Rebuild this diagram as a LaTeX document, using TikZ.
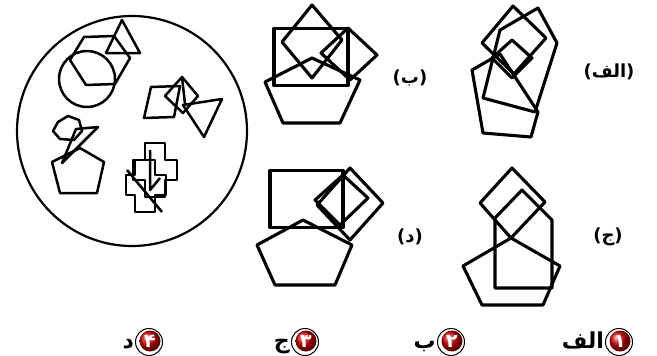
\documentclass[tikz,border=0pt]{standalone}
\usepackage{fontspec}
\newfontfamily\arabicfont[Script=Arabic]{DejaVu Sans}
\newfontfamily\dvs{DejaVu Sans}
\TeXXeTstate=1
\newcommand{\plbl}[1]{{\dvs\bfseries(}{\arabicfont\bfseries\beginR #1\endR}{\dvs\bfseries)}}
\begin{document}
\begin{tikzpicture}[x=1pt,y=-1pt,
  shp/.style={draw=black,line width=3.1pt,line join=round},
  thin shp/.style={draw=black,line width=2.5pt,line join=round},
  lbl/.style={font=\fontsize{18}{20}\selectfont,inner sep=0pt},
  ans/.style={font=\arabicfont\bfseries\fontsize{22}{24}\selectfont,inner sep=0pt},
  numc/.style={circle,shading=ball,ball color=red!80!black,text=white,minimum size=21pt,inner sep=0pt,font=\arabicfont\bfseries\fontsize{19}{20}\selectfont}]
\useasboundingbox (0,0) rectangle (657,356);
\fill[white] (0,0) rectangle (657,356);

% big circle with the sample shapes
\draw[line width=2.2pt] (132,131) circle (115);
% group 1
\draw[thin shp] (87,79) circle (28);
\draw[thin shp] (84,37) -- (114,36) -- (130,58) -- (115,84) -- (86,85) -- (70,60) -- cycle;
\draw[thin shp] (122,20) -- (106,53) -- (140,53) -- cycle;
% group 2
\draw[thin shp] (151,87) -- (180,86) -- (174,117) -- (144,118) -- cycle;
\draw[thin shp] (182,77) -- (198,96) -- (183,113) -- (165,96) -- cycle;
\draw[thin shp] (183,105) -- (222,99) -- (204,137) -- cycle;
\draw[thin shp] (182,77) -- (185,104);
% group 3
\draw[thin shp] (58,122) -- (68,116) -- (79,120) -- (82,131) -- (74,140) -- (60,139) -- (53,131) -- cycle;
\draw[thin shp] (76,129) -- (98,127) -- (62,163) -- cycle;
\draw[thin shp] (80,148) -- (104,162) -- (97,193) -- (60,193) -- (52,162) -- cycle;
% group 4
\draw[thin shp] (145,143) -- (165,143) -- (165,160) -- (177,160) -- (177,180) -- (165,180) -- (165,197) -- (145,197) -- (145,180) -- (133,180) -- (133,160) -- (145,160) -- cycle;
\draw[thin shp] (135,160) -- (155,160) -- (155,175) -- (166,175) -- (166,195) -- (155,195) -- (155,212) -- (135,212) -- (135,195) -- (126,195) -- (126,175) -- (135,175) -- cycle;
\draw[thin shp] (127,170) -- (162,212);
\draw[thin shp] (150,150) -- (150,190) -- (160,178);

% option alef
\draw[shp] (472,70) -- (500,54) -- (538,112) -- (531,137) -- (483,133) -- cycle;
\draw[shp] (500,30) -- (538,8) -- (557,43) -- (535,112) -- (483,98) -- cycle;
\draw[shp] (513,6) -- (482,43) -- (514,74) -- (546,38) -- cycle;
\draw[shp] (512,40) -- (532,58) -- (512,78) -- (492,58) -- cycle;
\node[lbl] (lalef) at (609,72) {\plbl{الف}};

% option be
\draw[shp] (274,28.5) -- (348,28.5) -- (348,85.5) -- (274,85.5) -- cycle;
\draw[shp] (312,5) -- (282,42) -- (312,78) -- (342,40) -- cycle;
\draw[shp] (348,28) -- (377,55) -- (350,80) -- (321,53) -- cycle;
\draw[shp] (312,58) -- (265,82) -- (283,123) -- (340,123) -- (360,80) -- cycle;
\node[lbl] (lbe) at (410,78) {\plbl{ب}};

% option jim
\draw[shp] (512,168) -- (480,203) -- (511,238) -- (545,202) -- cycle;
\draw[shp] (495,288) -- (495,218) -- (522,190) -- (552,220) -- (552,288) -- cycle;
\draw[shp] (463,266) -- (511,238) -- (560,266) -- (543,305) -- (482,305) -- cycle;
\node[lbl] (ljim) at (608,237) {\plbl{ج}};

% option dal
\draw[shp] (270,170.5) -- (343,170.5) -- (343,227.5) -- (270,227.5) -- cycle;
\draw[shp] (350,168) -- (383,203) -- (350,240) -- (317,205) -- cycle;
\draw[shp] (343,175) -- (368,198) -- (340,225) -- (315,200) -- cycle;
\draw[shp] (303,220) -- (257,245) -- (275,285) -- (335,285) -- (352,245) -- cycle;
\node[lbl] (ldal) at (410,237) {\plbl{د}};

% answers
\foreach \p/\d/\t/\w in {620/۱/الف/1, 452/۲/ب/2, 306/۳/ج/3, 150/۴/د/4}{
  \draw[line width=1pt] (\p-1,342) circle (13.5);
  \node[numc] (n\w) at (\p,341) {\d};
  \node[ans,anchor=base east] (a\w) at (\p-16,348) {\beginR\t\endR};
}
\end{tikzpicture}
\end{document}
